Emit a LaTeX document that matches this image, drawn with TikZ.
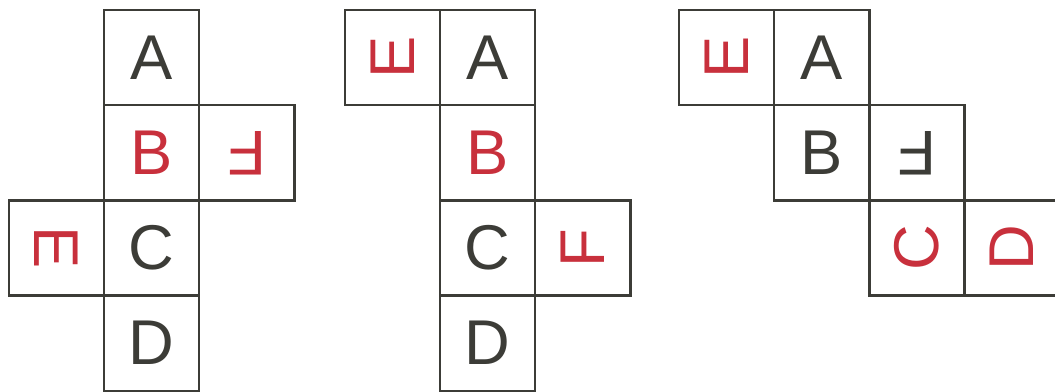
\documentclass[tikz,border=0pt]{standalone}
\usepackage{fontspec}
\setmainfont{Liberation Sans}
\definecolor{cdark}{HTML}{3C3C37}
\definecolor{cred}{HTML}{C8303C}
\tikzset{
  every picture/.style={line width=1.8pt},
  face/.style={draw=cdark, minimum size=2.38cm, inner sep=0pt, outer sep=0pt, text=#1,
               font=\fontsize{45}{45}\selectfont},
  face/.default=cdark,
}

\begin{document}
\begin{tikzpicture}[x=0.025cm, y=-0.025cm]
  \useasboundingbox (0,0) rectangle (1055,392);
  % net 1: column with F right of B, E left of C
  \node[face]                (n1a) at (151.6, 57.6)  {A};
  \node[face=cred]           (n1b) at (151.6, 152.8) {B};
  \node[face]                (n1c) at (151.6, 248)   {C};
  \node[face]                (n1d) at (151.6, 343.2) {D};
  \node[face=cred, rotate=180] (n1f) at (246.8, 152.8) {F};
  \node[face=cred, rotate=-90] (n1e) at (56.4, 248)    {E};
  % net 2: E left of A, F right of C
  \node[face]                (n2a) at (487.6, 57.6)  {A};
  \node[face=cred]           (n2b) at (487.6, 152.8) {B};
  \node[face]                (n2c) at (487.6, 248)   {C};
  \node[face]                (n2d) at (487.6, 343.2) {D};
  \node[face=cred, rotate=90]  (n2e) at (392.4, 57.6)  {E};
  \node[face=cred, rotate=90]  (n2f) at (582.8, 248)   {F};
  % net 3: staircase
  \node[face=cred, rotate=90]  (n3e) at (726.6, 57.6)  {E};
  \node[face]                (n3a) at (821.8, 57.6)  {A};
  \node[face]                (n3b) at (821.8, 152.8) {B};
  \node[face, rotate=180]    (n3f) at (917, 152.8)   {F};
  \node[face=cred, rotate=90]  (n3c) at (917, 248)     {C};
  \node[face=cred, rotate=90]  (n3d) at (1012.2, 248)  {D};
\end{tikzpicture}
\end{document}
